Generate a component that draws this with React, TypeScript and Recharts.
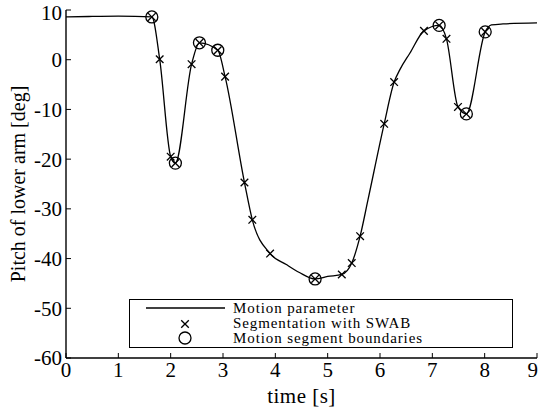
import { ComposedChart, Line, Scatter, XAxis, YAxis, Label } from 'recharts'

const FONT = 'Liberation Serif, Times New Roman, DejaVu Serif, serif'

// motion parameter curve (time in s, pitch in deg)
const lineTime = [0, 0.5, 1.0, 1.64, 1.79, 2.0, 2.09, 2.4, 2.55, 2.9, 3.04, 3.41, 3.56, 3.9, 4.21, 4.46, 4.76, 5.0, 5.27, 5.46, 5.62, 5.77, 6.08, 6.27, 6.38, 6.57, 6.84, 7.13, 7.27, 7.49, 7.65, 8.01, 8.13, 8.35, 9.0]
const linePitch = [8.6, 8.7, 8.75, 8.6, 0.1, -19.5, -20.8, -0.9, 3.4, 1.9, -3.4, -24.7, -32.2, -39.0, -41.2, -42.8, -44.1, -43.6, -43.2, -40.9, -35.5, -28.2, -12.9, -4.5, -2.0, 1.3, 5.8, 6.9, 4.2, -9.5, -10.9, 5.6, 7.0, 7.2, 7.4]

// SWAB segmentation points
const swabTime = [1.64, 1.79, 2.0, 2.09, 2.4, 2.55, 2.9, 3.04, 3.41, 3.56, 3.9, 4.76, 5.27, 5.46, 5.62, 6.08, 6.27, 6.84, 7.13, 7.27, 7.49, 7.65, 8.01]
const swabPitch = [8.6, 0.1, -19.5, -20.8, -0.9, 3.4, 1.9, -3.4, -24.7, -32.2, -39.0, -44.1, -43.2, -40.9, -35.5, -12.9, -4.5, 5.8, 6.9, 4.2, -9.5, -10.9, 5.6]

// motion segment boundaries
const boundaryTime = [1.64, 2.09, 2.55, 2.9, 4.76, 7.13, 7.65, 8.01]
const boundaryPitch = [8.6, -20.8, 3.4, 1.9, -44.1, 6.9, -10.9, 5.6]

const xTicks = [0, 1, 2, 3, 4, 5, 6, 7, 8, 9]
const yTicks = [-60, -50, -40, -30, -20, -10, 0, 10]

const lineData = lineTime.map((t, i) => ({ t, v: linePitch[i] }))
const swabData = swabTime.map((t, i) => ({ t, v: swabPitch[i] }))
const boundaryData = boundaryTime.map((t, i) => ({ t, v: boundaryPitch[i] }))

const XMark = (props: any) => {
  const { cx, cy } = props
  const s = 3.8
  return (
    <g stroke="#000" strokeWidth={1.3}>
      <line x1={cx - s} y1={cy - s} x2={cx + s} y2={cy + s} />
      <line x1={cx - s} y1={cy + s} x2={cx + s} y2={cy - s} />
    </g>
  )
}

const OMark = (props: any) => {
  const { cx, cy } = props
  return <circle cx={cx} cy={cy} r={6} fill="none" stroke="#000" strokeWidth={1.3} />
}

const tickStyle = { fill: '#000', fontSize: 21, style: { fontFamily: FONT } }
const axisLine = { stroke: '#000', strokeWidth: 1.4 }
const blank = () => ''

function ChartLegend() {
  return (
    <div
      style={{
        position: 'absolute',
        left: 129,
        top: 299,
        width: 384,
        height: 49,
        boxSizing: 'border-box',
        border: '1.5px solid #000',
        background: '#fff',
      }}
    >
      <svg width={381} height={46} style={{ display: 'block' }}>
        <line x1={16} y1={8} x2={95} y2={8} stroke="#000" strokeWidth={1.3} />
        <XMark cx={55} cy={24} />
        <OMark cx={55} cy={38} />
        <g style={{ fontFamily: FONT, fontSize: 15, letterSpacing: 0.9 }} fill="#000">
          <text x={103} y={13}>Motion parameter</text>
          <text x={103} y={28}>Segmentation with SWAB</text>
          <text x={103} y={43}>Motion segment boundaries</text>
        </g>
      </svg>
    </div>
  )
}

export default function App() {
  return (
    <div style={{ position: 'absolute', left: 0, top: 0, width: 538, height: 409, background: '#fff', fontFamily: FONT }}>
      <ComposedChart width={538} height={409} margin={{ top: 10, right: 1, bottom: 0, left: 0 }}>
        <XAxis
          type="number"
          dataKey="t"
          domain={[0, 9]}
          ticks={xTicks}
          allowDataOverflow
          height={51}
          tickSize={-5}
          tickMargin={9}
          tick={tickStyle}
          tickLine={{ stroke: '#000' }}
          axisLine={axisLine}
        >
          <Label value="time [s]" position="insideBottom" offset={6} fill="#000" fontSize={21} style={{ fontFamily: FONT, letterSpacing: 0.5 }} />
        </XAxis>
        <YAxis
          type="number"
          dataKey="v"
          domain={[-60, 10]}
          ticks={yTicks}
          allowDataOverflow
          width={66}
          tickSize={-5}
          tickMargin={9}
          tick={tickStyle}
          tickLine={{ stroke: '#000' }}
          axisLine={axisLine}
        >
          <Label value="Pitch of lower arm [deg]" position="center" angle={-90} dx={-15} fill="#000" fontSize={20} style={{ fontFamily: FONT }} />
        </YAxis>
        <XAxis
          xAxisId="top"
          orientation="top"
          type="number"
          dataKey="t"
          domain={[0, 9]}
          ticks={xTicks}
          allowDataOverflow
          height={0}
          tickSize={-5}
          tickFormatter={blank}
          tickLine={{ stroke: '#000' }}
          axisLine={axisLine}
        />
        <YAxis
          yAxisId="right"
          orientation="right"
          type="number"
          dataKey="v"
          domain={[-60, 10]}
          ticks={yTicks}
          allowDataOverflow
          width={0}
          tickSize={-5}
          tickFormatter={blank}
          tickLine={{ stroke: '#000' }}
          axisLine={axisLine}
        />
        <Line
          xAxisId="top"
          yAxisId="right"
          data={lineData}
          dataKey="v"
          stroke="none"
          dot={false}
          activeDot={false}
          isAnimationActive={false}
        />
        <Line
          data={lineData}
          dataKey="v"
          type="monotone"
          stroke="#000"
          strokeWidth={1.3}
          dot={false}
          activeDot={false}
          isAnimationActive={false}
        />
        <Scatter data={swabData} dataKey="v" shape={XMark} isAnimationActive={false} />
        <Scatter data={boundaryData} dataKey="v" shape={OMark} isAnimationActive={false} />
      </ComposedChart>
      <ChartLegend />
    </div>
  )
}
